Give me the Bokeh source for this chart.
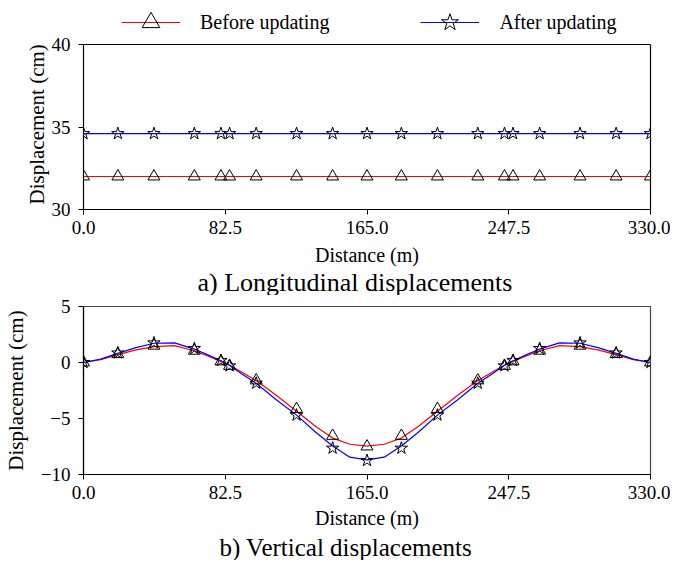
from bokeh.plotting import figure
from bokeh.layouts import column
from bokeh.models import (Range1d, FixedTicker, NumeralTickFormatter, Legend, LegendItem, Title,
                          LinearAxis, Span)
from bokeh.embed import file_html
from bokeh.resources import INLINE

# ---------------- data ----------------
x_ticks = [0, 82.5, 165, 247.5, 330]
marker_x = [0, 20, 41, 64.5, 80, 85, 100.5, 124, 145, 165, 185, 206, 229.5, 245, 250, 265.5, 289, 310, 330]

# a) longitudinal displacements (cm)
long_yticks = [30, 35, 40]
long_before = [32.0] * len(marker_x)
long_after = [34.6] * len(marker_x)

# b) vertical displacements (cm) - curve
vert_yticks = [-10, -5, 0, 5]
line_x = [0, 10, 20, 30, 41, 53, 64.5, 72, 80, 85, 92, 100.5, 112, 124, 135, 145, 155, 165,
          175, 185, 195, 206, 218, 229.5, 238, 245, 250, 258, 265.5, 277, 289, 300, 310, 320, 330]
vert_before_line = [0, 0.25, 0.7, 1.1, 1.42, 1.5, 1.05, 0.6, 0.1, -0.25, -0.85, -1.6, -2.9, -4.35, -5.7, -6.75, -7.3, -7.47,
                    -7.3, -6.75, -5.7, -4.35, -2.9, -1.6, -0.85, -0.25, 0.1, 0.6, 1.05, 1.5, 1.42, 1.1, 0.7, 0.25, 0]
vert_after_line = [0, 0.3, 0.82, 1.3, 1.72, 1.75, 1.2, 0.7, 0.15, -0.25, -1.0, -1.85, -3.3, -4.7, -6.2, -7.45, -8.45, -8.7,
                   -8.45, -7.45, -6.2, -4.7, -3.3, -1.85, -1.0, -0.25, 0.15, 0.7, 1.2, 1.75, 1.72, 1.3, 0.82, 0.3, 0]
# b) vertical displacements (cm) - markers
vert_before_mark = [0, 0.75, 1.5, 1.05, 0.1, -0.3, -1.6, -4.15, -6.55, -7.5, -6.55, -4.15, -1.6, -0.3, 0.1, 1.05, 1.5, 0.75, 0]
vert_after_mark = [0, 0.85, 1.75, 1.25, 0.18, -0.3, -1.85, -4.7, -7.65, -8.75, -7.65, -4.7, -1.85, -0.3, 0.18, 1.25, 1.75, 0.85, 0]

FONT = "Liberation Serif"
RED = "#ff0000"
BLUE = "#0000ff"


def style(p, yticks):
    p.grid.visible = False
    for ax in (p.xaxis[0], p.yaxis[0]):
        ax.axis_line_color = "#000000"
        ax.axis_line_width = 1.2
        ax.major_tick_line_color = "#000000"
        ax.major_tick_out = 5
        ax.major_tick_in = 0
        ax.minor_tick_line_color = None
        ax.major_label_text_font = FONT
        ax.major_label_text_font_size = "19px"
        ax.major_label_text_color = "#000000"
        ax.axis_label_text_font = FONT
        ax.axis_label_text_font_size = "20px"
        ax.axis_label_text_font_style = "normal"
        ax.axis_label_text_color = "#000000"
    p.yaxis[0].axis_label_text_font_size = "21px"
    p.xaxis[0].ticker = FixedTicker(ticks=x_ticks)
    p.xaxis[0].formatter = NumeralTickFormatter(format="0.0")
    p.xaxis[0].major_label_standoff = 6
    p.yaxis[0].ticker = FixedTicker(ticks=yticks)
    p.yaxis[0].major_label_standoff = 8
    p.yaxis[0].axis_label_standoff = 10


# ---------------- top plot ----------------
# frame = 165 px of data (30..40) + 44 px legend strip above it
y_top = long_yticks[-1] + (long_yticks[-1] - long_yticks[0]) * 44 / 165
p1 = figure(width=670, height=295, output_backend="svg", toolbar_location=None,
            x_range=Range1d(0, 330), y_range=Range1d(long_yticks[0], y_top),
            x_axis_label="Distance (m)",
            min_border_left=68, min_border_right=20, min_border_top=0, min_border_bottom=86)
style(p1, long_yticks)
p1.xaxis[0].axis_label_standoff = 7
p1.yaxis[0].axis_label_standoff = 0
p1.outline_line_color = None
p1.yaxis[0].bounds = (long_yticks[0], long_yticks[-1])
right_ax = LinearAxis(bounds=(long_yticks[0], long_yticks[-1]), ticker=FixedTicker(ticks=[]),
                      axis_line_color="#000000", axis_line_width=1.2,
                      major_label_text_font_size="0px", minor_tick_line_color=None,
                      major_tick_line_color=None)
p1.add_layout(right_ax, "right")
p1.add_layout(Span(location=long_yticks[-1], dimension="width", line_color="#000000", line_width=1.2))

ytitle1 = Title(text="Displacement (cm)", align="left", offset=5, standoff=0, text_font=FONT,
                text_font_size="21px", text_font_style="normal", text_color="#000000")
p1.add_layout(ytitle1, "left")

l1 = p1.line(marker_x, long_before, line_color=RED, line_width=1.2)
s1 = p1.scatter(marker_x, long_before, marker="triangle", size=12, fill_alpha=0,
                line_color="#000000", line_width=1)
l2 = p1.line(marker_x, long_after, line_color=BLUE, line_width=1.2)
s2 = p1.scatter(marker_x, long_after, marker="star", size=13, fill_alpha=0,
                line_color="#000000", line_width=1)

legend = Legend(items=[LegendItem(label="Before updating", renderers=[l1, s1]),
                       LegendItem(label="After updating", renderers=[l2, s2])],
                location=(38, 165), orientation="horizontal",
                glyph_width=59, glyph_height=44, label_standoff=20, label_width=129,
                spacing=91, padding=0, margin=0,
                border_line_alpha=0, background_fill_alpha=0,
                label_text_font=FONT, label_text_font_size="20px", label_text_color="#000000")
p1.add_layout(legend, "center")

t1 = Title(text="a) Longitudinal displacements", align="left", text_font=FONT,
           text_font_size="26px", text_font_style="normal", text_color="#000000", standoff=-6, offset=114)
p1.add_layout(t1, "below")

# ---------------- bottom plot ----------------
p2 = figure(width=670, height=265, output_backend="svg", toolbar_location=None,
            x_range=Range1d(0, 330), y_range=Range1d(vert_yticks[0], vert_yticks[-1]),
            x_axis_label="Distance (m)", y_axis_label="Displacement (cm)",
            min_border_left=74, min_border_right=20, min_border_top=11, min_border_bottom=86)
style(p2, vert_yticks)
p2.xaxis[0].axis_label_standoff = 5
p2.outline_line_color = "#444444"
p2.outline_line_width = 1.2

p2.line(line_x, vert_before_line, line_color=RED, line_width=1.2)
p2.line(line_x, vert_after_line, line_color=BLUE, line_width=1.2)
p2.scatter(marker_x, vert_before_mark, marker="triangle", size=12, fill_alpha=0,
           line_color="#000000", line_width=1)
p2.scatter(marker_x, vert_after_mark, marker="star", size=13, fill_alpha=0,
           line_color="#000000", line_width=1)

t2 = Title(text="b) Vertical displacements", align="left", text_font=FONT,
           text_font_size="25px", text_font_style="normal", text_color="#000000", standoff=0, offset=136)
p2.add_layout(t2, "below")

layout = column(p1, p2, spacing=0)
open("out.html", "w").write(file_html(layout, INLINE))
